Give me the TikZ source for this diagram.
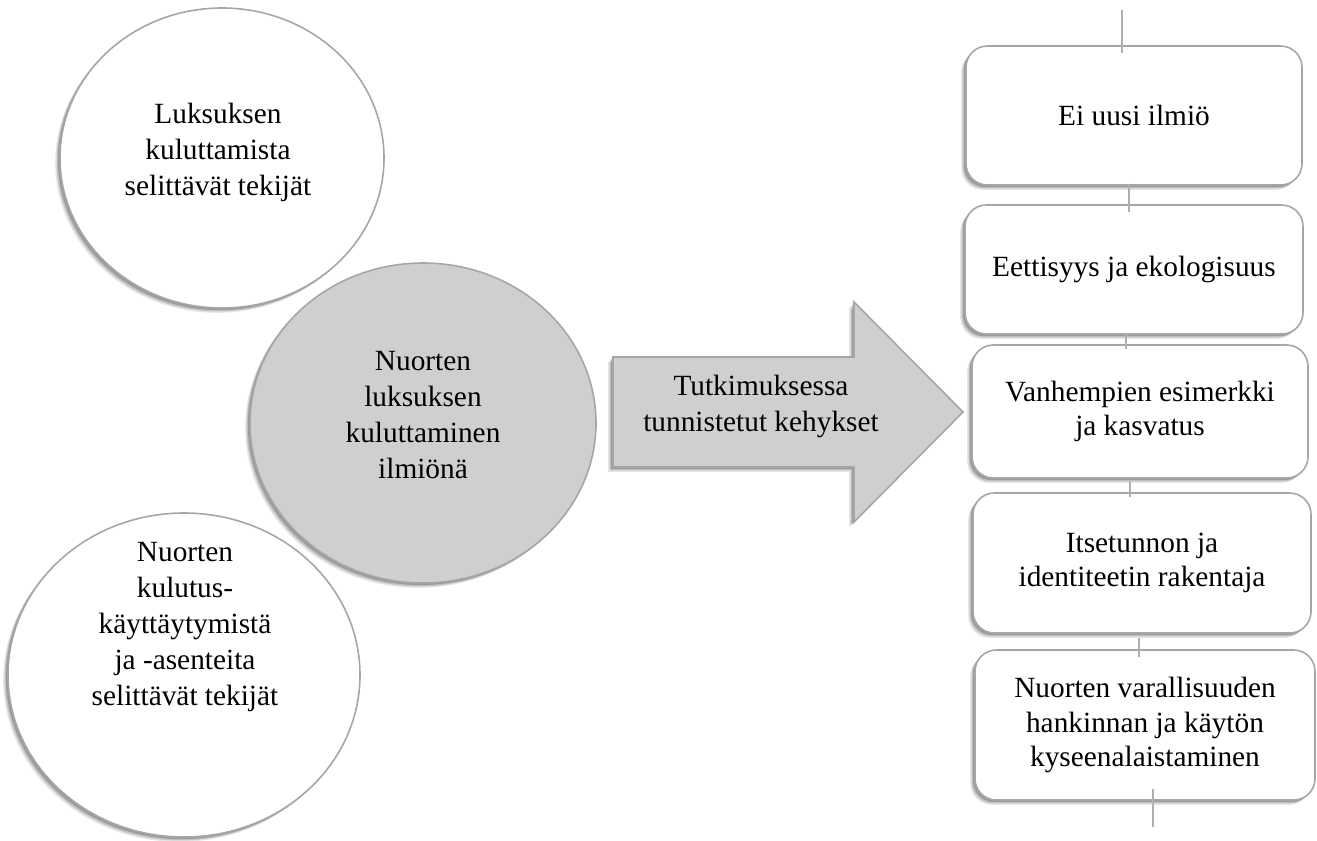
\documentclass[tikz,border=0pt]{standalone}
\usepackage{fontspec}
\setmainfont{Liberation Serif}
\usetikzlibrary{shapes.geometric,shadows,calc}
\definecolor{edgec}{RGB}{166,166,166}
\definecolor{greyfill}{RGB}{208,206,208}
\definecolor{connc}{RGB}{175,175,175}
\begin{document}
\begin{tikzpicture}[x=0.75pt,y=-0.75pt,
 shad/.style={
   drop shadow={shadow xshift=-3.6pt,shadow yshift=-3.6pt,opacity=0.10,fill=black},
   drop shadow={shadow xshift=-2.6pt,shadow yshift=-2.6pt,opacity=0.15,fill=black},
   drop shadow={shadow xshift=-1.6pt,shadow yshift=-1.6pt,opacity=0.20,fill=black}},
 bubble/.style={ellipse,draw=edgec,line width=1.2pt,fill=white,inner sep=0pt,shad},
 txt/.style={font=\fontsize{22}{27}\selectfont,align=center,inner sep=0pt},
 framebox/.style={rounded corners=16pt,draw=edgec,line width=1.2pt,fill=white,shad,inner sep=2pt,align=center,font=\fontsize{22}{26}\selectfont},
 conn/.style={draw=connc,line width=0.8pt}]
\useasboundingbox (0,0) rectangle (1317,840);

% circles
\node[bubble,minimum width=243pt,minimum height=225pt] (c1) at (222,158) {};
\node[txt] (c1t) at (218,152) {Luksuksen\\kuluttamista\\selittävät tekijät};
\node[bubble,fill=greyfill,minimum width=259.5pt,minimum height=240pt] (c2) at (423,423) {};
\node[txt] (c2t) at (423,415) {Nuorten\\luksuksen\\kuluttaminen\\ilmiönä};
\node[bubble,minimum width=264pt,minimum height=243pt] (c3) at (184,675) {};
\node[txt] (c3t) at (185,627) {Nuorten\\kulutus-\\käyttäytymistä\\ja -asenteita\\selittävät tekijät};

% big arrow
\path[draw=edgec,line width=1.2pt,fill=greyfill,shad,line join=miter]
 (613,357) -- (854,357) -- (854,302) -- (963,412) -- (854,522) -- (854,467) -- (613,467) -- cycle;
\node[txt] (at) at (761,406) {Tutkimuksessa\\tunnistetut kehykset};

% boxes
\node[framebox,minimum width=252pt,minimum height=104.25pt] (b1) at (1134,115.5) {Ei uusi ilmiö};
\node[framebox,minimum width=253.5pt,minimum height=96.75pt] (b2) at (1134,269.5) {Eettisyys ja ekologisuus};
\node[framebox,minimum width=252pt,minimum height=99.75pt] (b3) at (1140,411.5) {Vanhempien esimerkki\\ja kasvatus};
\node[framebox,minimum width=253.5pt,minimum height=105pt] (b4) at (1142,563) {Itsetunnon ja\\identiteetin rakentaja};
\node[framebox,minimum width=255pt,minimum height=112.5pt] (b5) at (1145,725) {Nuorten varallisuuden\\hankinnan ja käytön\\kyseenalaistaminen};

% connectors
\coordinate (topend) at (1122,10);
\coordinate (botend) at (1153,827);
\draw[conn] (topend) -- ($(b1.north)+(-12,8)$);
\draw[conn] ($(b1.south)+(-5,-2)$) -- ($(b2.north)+(-5,8)$);
\draw[conn] ($(b2.south)+(-8,-2)$) -- ($(b3.north)+(-14,5)$);
\draw[conn] ($(b3.south)+(-10,2)$) -- ($(b4.north)+(-12,5)$);
\draw[conn] ($(b4.south)+(-3,4)$) -- ($(b5.north)+(-6,8)$);
\draw[conn] ($(b5.south)+(8,-12)$) -- (botend);
\end{tikzpicture}
\end{document}
